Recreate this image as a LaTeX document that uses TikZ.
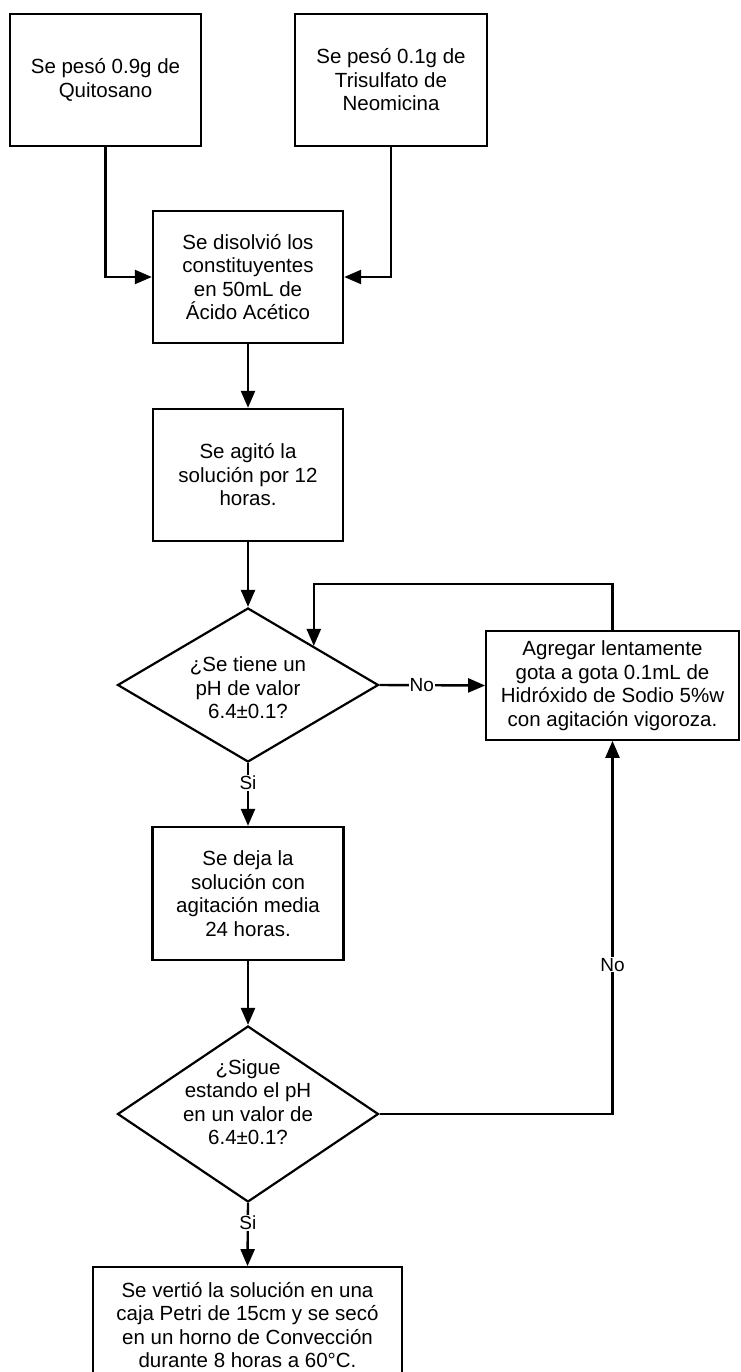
\documentclass[tikz,border=0pt]{standalone}
\usepackage{fontspec}
\setmainfont{Liberation Sans}
\usetikzlibrary{shapes.geometric,arrows.meta}
\begin{document}
\begin{tikzpicture}[x=1pt,y=1pt,
  box/.style={draw, line width=2.4pt, rectangle, inner sep=0pt, align=center,
    font=\fontsize{20.5}{23.5}\selectfont},
  thinbox/.style={box, line width=1.7pt},
  dec/.style={draw, line width=2.2pt, diamond, inner sep=0pt, aspect=1},
  txt/.style={align=center, inner sep=0pt, font=\fontsize{20.5}{23.5}\selectfont},
  arr/.style={line width=2.4pt, -{Triangle[length=17pt,width=14pt]}},
  lbl/.style={fill=white, inner sep=1pt, font=\fontsize{19}{21}\selectfont}]
\clip (0,0) rectangle (740,-1372);
\fill[white] (0,0) rectangle (740,-1372);

\node[box, minimum width=191, minimum height=132] (b1) at (105.5,-80)
  {Se pesó 0.9g de\\Quitosano};
\node[box, minimum width=192, minimum height=132] (b2) at (391,-80)
  {Se pesó 0.1g de\\Trisulfato de\\Neomicina};
\node[box, minimum width=190, minimum height=132] (b3) at (248,-277)
  {Se disolvió los\\constituyentes\\en 50mL de\\Ácido Acético};
\node[box, minimum width=190, minimum height=132] (b4) at (248,-475)
  {Se agitó la\\solución por 12\\horas.};
\node[dec, minimum width=261, minimum height=154] (d1) at (248,-685) {};
\node[txt] (d1t) at (248,-688) {¿Se tiene un\\pH de valor\\6.4±0.1?};
\node[thinbox, minimum width=253, minimum height=109] (rb) at (612.5,-685.5)
  {Agregar lentamente\\gota a gota 0.1mL de\\Hidróxido de Sodio 5\%w\\con agitación vigoroza.};
\node[box, minimum width=191, minimum height=133] (b5) at (248,-893.5)
  {Se deja la\\solución con\\agitación media\\24 horas.};
\node[dec, minimum width=261, minimum height=176] (d2) at (248,-1114) {};
\node[txt] (d2t) at (248,-1102) {¿Sigue\\estando el pH\\en un valor de\\6.4±0.1?};
\node[thinbox, minimum width=309, minimum height=116, text depth=0pt] (b6) at (247.5,-1325)
  {Se vertió la solución en una\\caja Petri de 15cm y se secó\\en un horno de Convección\\durante 8 horas a 60°C.};

\draw[arr] (b1.south) |- (b3.west);
\draw[arr] (b2.south) |- (b3.east);
\draw[arr] (b3) -- (b4);
\draw[arr] (b4) -- (d1);
\draw[arr] (d1.east) -- node[lbl, pos=0.4] {No} (rb.west);
\draw[arr] (rb.north) -- ++(0,46) -| (d1.north east);
\draw[arr] (d1.south) -- node[lbl, pos=0.32] {Si} (b5.north);
\draw[arr] (b5) -- (d2);
\draw[arr] (d2.east) -| node[lbl, pos=0.70] {No} (rb.south);
\draw[arr] (d2.south) -- node[lbl, pos=0.31] {Si} (b6.north);
\end{tikzpicture}
\end{document}
